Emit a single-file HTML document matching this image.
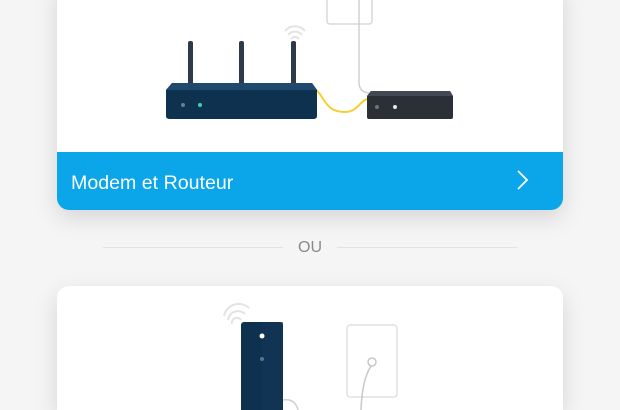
<!DOCTYPE html>
<html><head><meta charset="utf-8"><style>
html,body{margin:0;padding:0;width:620px;height:410px;overflow:hidden}
body{background:#f5f5f5;position:relative;font-family:"Liberation Sans",sans-serif}
.card{position:absolute;left:57px;width:506px;background:#fff;border-radius:12px;box-shadow:0 8px 24px rgba(0,0,0,0.13);overflow:hidden}
.bar{position:absolute;left:0;right:0;bottom:0;height:58px;background:#0ba5e9;color:#fff;font-size:19.6px;line-height:62px;padding-left:14px}
.line{position:absolute;top:247px;height:1px;background:#e2e2e2}
.ou{position:absolute;top:239px;left:283px;width:54px;text-align:center;color:#8a8a8a;font-size:16px}
svg{position:absolute;left:0;top:0}
</style></head><body>
<div class="card" style="top:-20px;height:230px">
<div class="bar">Modem et Routeur</div>
</div>
<div class="line" style="left:103px;width:180px"></div>
<div class="line" style="left:337px;width:180px"></div>
<div class="ou">OU</div>
<div class="card" style="top:286px;height:124px;border-radius:12px 12px 0 0"></div>
<svg width="620" height="410" viewBox="0 0 620 410">
<polyline points="518,171 527,180 518,189" fill="none" stroke="#fff" stroke-width="1.8"/>
<rect x="327" y="-6" width="45" height="30" rx="3" fill="#fff" stroke="#d8d8d8" stroke-width="1.5"/>
<path d="M359,0 L359,82 Q359,92 369,93" fill="none" stroke="#d0d0d0" stroke-width="1.5"/>
<g fill="none" stroke="#e3e3e3" stroke-width="2">
<path d="M285,31 A13,13 0 0 1 305,31"/><path d="M288,35 A9,9 0 0 1 302,35"/><path d="M291,39 A5,5 0 0 1 299,39"/>
</g>
<rect x="188" y="41" width="5" height="45" rx="2" fill="#2e3a4a"/>
<rect x="239" y="41" width="5" height="45" rx="2" fill="#2e3a4a"/>
<rect x="291" y="41" width="5" height="45" rx="2" fill="#2e3a4a"/>
<path d="M312,88 C325,92 322,112 345,112 C358,112 360,100 368,99" fill="none" stroke="#f5d02e" stroke-width="2"/>
<path d="M172,83 L312,83 L317,90 L317,116 Q317,119 313,119 L170,119 Q166,119 166,116 L166,90 Z" fill="#0f3150"/>
<path d="M172,83 L312,83 L317,90 L166,90 Z" fill="#1f4a6e"/>
<circle cx="183" cy="105" r="2" fill="#6b7d8f"/><circle cx="200" cy="105" r="2" fill="#3ed3a8"/>
<path d="M371,91 L450,91 L453,96 L453,117 Q453,119 451,119 L369,119 Q367,119 367,117 L367,96 Z" fill="#2b2f36"/>
<path d="M371,91 L450,91 L453,96 L367,96 Z" fill="#434953"/>
<circle cx="377" cy="107" r="2" fill="#6e737b"/><circle cx="395" cy="107" r="2" fill="#e8e8e8"/>
<g fill="none" stroke="#e3e3e3" stroke-width="2">
<path d="M224,316 A15,15 0 0 1 249,308"/><path d="M228,320 A10,10 0 0 1 245,314"/><path d="M232,324 A5,5 0 0 1 241,320"/>
</g>
<rect x="241" y="322" width="42" height="100" rx="3" fill="#0f3150"/>
<rect x="262" y="322" width="21" height="100" fill="#123756" opacity="0.6"/>
<circle cx="262" cy="336" r="2.5" fill="#fff"/><circle cx="262" cy="359" r="2" fill="#5a7390"/>
<path d="M283,400 Q295,398 298,410" fill="none" stroke="#d0d0d0" stroke-width="1.5"/>
<rect x="347" y="325" width="50" height="72" rx="3" fill="#fff" stroke="#e0e0e0" stroke-width="1.5"/>
<circle cx="372" cy="362" r="4" fill="#fff" stroke="#c8c8c8" stroke-width="1.5"/>
<path d="M371,366 Q362,380 361,410" fill="none" stroke="#c8c8c8" stroke-width="1.5"/>
</svg>
</body></html>
